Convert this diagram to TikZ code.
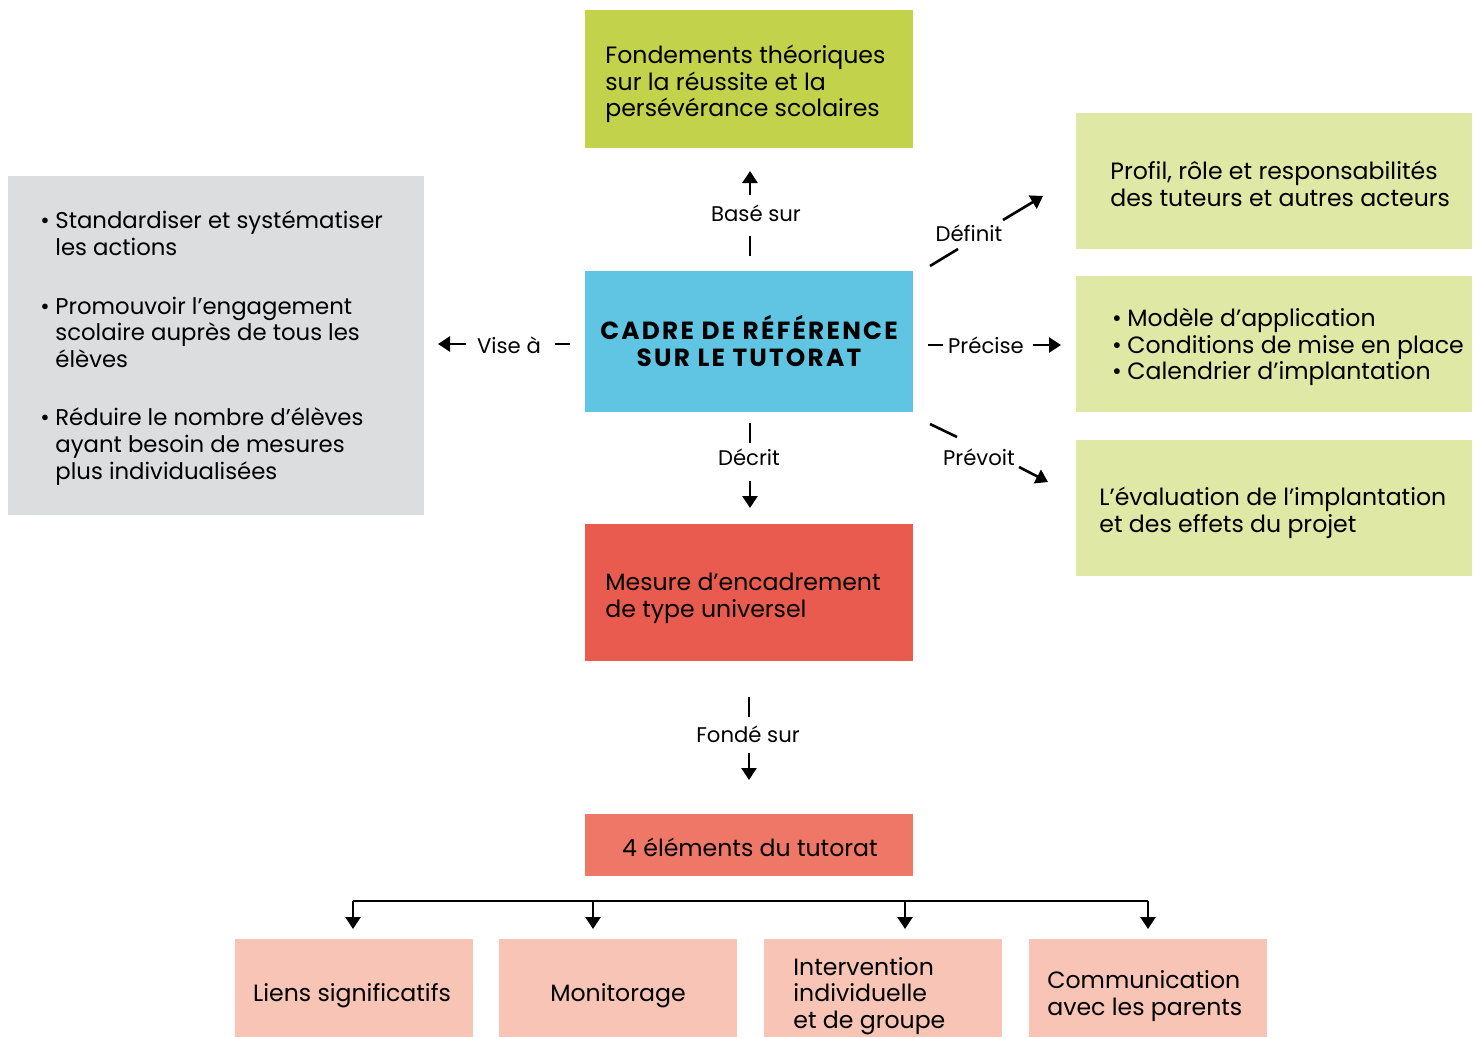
\documentclass[tikz,border=0pt]{standalone}
\usepackage{fontspec}
\setmainfont{Poppins}
\usetikzlibrary{arrows.meta}
\definecolor{fondc}{HTML}{C3D24B}
\definecolor{cadrec}{HTML}{5FC5E3}
\definecolor{mesurec}{HTML}{E95A4F}
\definecolor{quatrec}{HTML}{EE7767}
\definecolor{grisc}{HTML}{DCDDDF}
\definecolor{vertc}{HTML}{DFE8A5}
\definecolor{rosec}{HTML}{F7C4B5}
\newcommand{\puce}{\llap{\textbullet\hspace{2.8pt}}}
\begin{document}
\begin{tikzpicture}[x=0.5pt,y=-0.5pt]
\tikzstyle{every node}+=[inner sep=0pt,font=\fontsize{11.8}{13.4}\selectfont]
\tikzstyle{box}=[minimum width=164pt,minimum height=69pt]
\tikzstyle{sidebox}=[minimum width=198pt,minimum height=68pt,fill=vertc]
\tikzstyle{leaf}=[minimum width=119pt,minimum height=49pt,fill=rosec]
\tikzstyle{txt}=[align=left,anchor=west]
\tikzstyle{lbl}=[font=\fontsize{10.6}{13}\selectfont]
\tikzstyle{tick}=[line width=1.3pt]
\tikzstyle{arr}=[line width=1.3pt,-{Triangle[length=6pt,width=7.5pt]}]
\useasboundingbox (0,0) rectangle (1478,1038);
% boites centrales
\node [box,fill=fondc] (fond) at (749,79) {};
\node [txt] (fondt) at (605,84) {Fondements théoriques\\sur la réussite et la\\persévérance scolaires};
\node [box,fill=cadrec,minimum height=70.5pt] (cadre) at (749,341.5) {};
\node [align=center,font=\fontsize{12.4}{13.5}\bfseries\addfontfeature{LetterSpace=9}] (cadret) at (749,341)
  {CADRE DE RÉFÉRENCE\\SUR LE TUTORAT};
\node [box,fill=mesurec,minimum height=68.5pt] (mesure) at (749,592.5) {};
\node [txt] (mesuret) at (605,598) {Mesure d’encadrement\\de type universel};
\node [box,fill=quatrec,minimum height=31pt] (quatre) at (749,845) {};
\node (quatret) at (750,847) {4 éléments du tutorat};
% boite grise
\node [fill=grisc,minimum width=208pt,minimum height=169.5pt] (vise) at (216,345.5) {};
\node [txt,font=\fontsize{11.4}{13.3}\selectfont] (viset) at (55,348) {\puce Standardiser et systématiser\\les actions\\[16pt]
  \puce Promouvoir l’engagement\\scolaire auprès de tous les\\élèves\\[16pt]
  \puce Réduire le nombre d’élèves\\ayant besoin de mesures\\plus individualisées};
% boites de droite
\node [sidebox] (profil) at (1274,181) {};
\node [txt] (profilt) at (1110,184) {Profil, rôle et responsabilités\\des tuteurs et autres acteurs};
\node [sidebox] (modele) at (1274,344) {};
\node [txt] (modelet) at (1127,347) {\puce Modèle d’application\\\puce Conditions de mise en place\\\puce Calendrier d’implantation};
\node [sidebox] (eval) at (1274,508) {};
\node [txt] (evalt) at (1099,513) {L’évaluation de l’implantation\\et des effets du projet};
% elements du tutorat
\node [leaf] (liens) at (354,988) {};
\node (lienst) at (352,996) {Liens significatifs};
\node [leaf] (monit) at (618,988) {};
\node (monitt) at (618,996) {Monitorage};
\node [leaf] (interv) at (883,988) {};
\node [txt] (intervt) at (793,996) {Intervention\\individuelle\\et de groupe};
\node [leaf] (comm) at (1148,988) {};
\node [txt] (commt) at (1047,996) {Communication\\avec les parents};
% etiquettes
\node [lbl] (lvise) at (509,345) {Vise à};
\node [lbl] (lbase) at (756,213) {Basé sur};
\node [lbl] (ldef) at (969,233) {Définit};
\node [lbl] (lprec) at (986,345) {Précise};
\node [lbl] (lprev) at (979,457) {Prévoit};
\node [lbl] (ldecr) at (749,457) {Décrit};
\node [lbl] (lfond) at (748,734) {Fondé sur};
% liens coupes
\foreach \n/\xa/\ya/\xb/\yb/\xc/\yc/\xd/\yd in {
  vise/570/344/555/344/466/344/438/344,
  base/750/256/750/236/750/195/750/171,
  def/930/266/958/249/1003/220/1043/196,
  prec/928/345/943/345/1033/345/1061/345,
  prev/930/424/957/437/1019/467/1048/482,
  decr/750/423/750/443/750/481/750/508,
  fonde/749/697/749/717/749/753/749/780}{
  \coordinate (\n1) at (\xa,\ya);
  \coordinate (\n2) at (\xb,\yb);
  \coordinate (\n3) at (\xc,\yc);
  \coordinate (\n4) at (\xd,\yd);
  \draw [tick] (\n1) -- (\n2);
  \draw [arr] (\n3) -- (\n4);
}
% branches
\coordinate (b1) at (353,901);
\coordinate (b2) at (593,901);
\coordinate (b3) at (905,901);
\coordinate (b4) at (1148,901);
\draw [tick] (b1) -- (b4);
\foreach \b in {b1,b2,b3,b4}
  \draw [arr] (\b) -- ++(0,28);
\end{tikzpicture}
\end{document}
